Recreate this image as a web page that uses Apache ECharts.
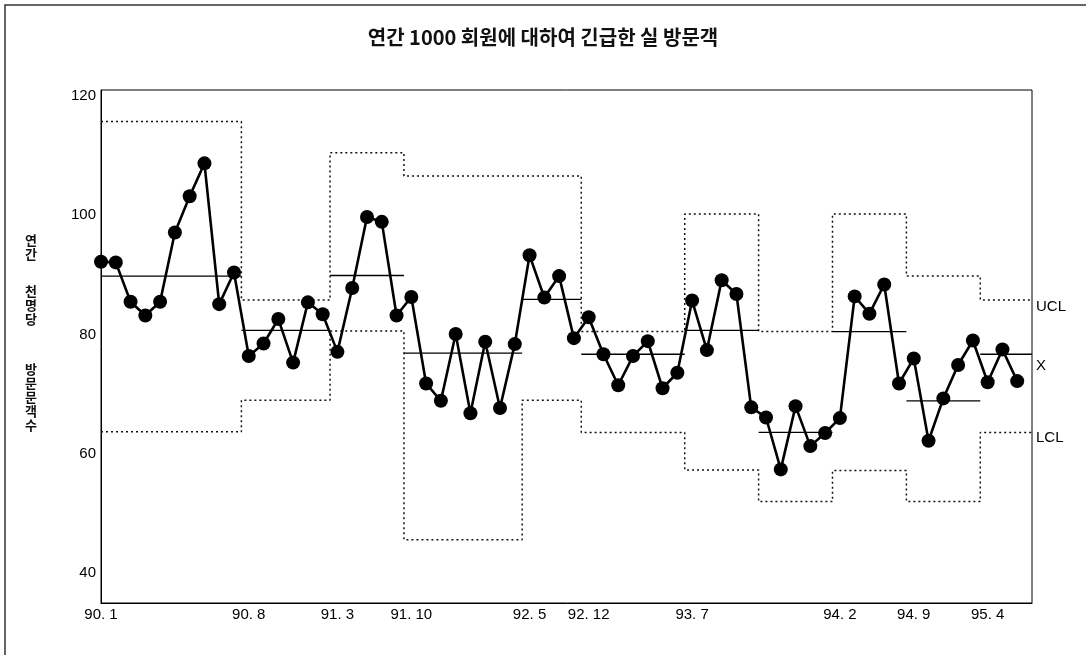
<!DOCTYPE html>
<html>
<head>
<meta charset="utf-8">
<script src="https://cdn.jsdelivr.net/npm/echarts@6/dist/echarts.min.js"></script>
<style>
  html, body { margin: 0; padding: 0; background: #fff; }
  #chart { width: 1086px; height: 655px; }
</style>
</head>
<body>
<div id="chart"></div>
<script>
// Emergency-room visits per 1000 members per year, one value per observation
const visits = [
  92.2, 92.1, 85.5, 83.2, 85.5, 97.1, 103.2, 108.7, 85.1, 90.4,
  76.4, 78.5, 82.6, 75.3, 85.4, 83.4,
  77.1, 87.8, 99.7, 98.9, 83.2,
  86.3, 71.8, 68.9, 80.1, 66.8, 78.8, 67.7, 78.4,
  93.3, 86.2, 89.8, 79.4,
  82.9, 76.7, 71.5, 76.4, 78.9, 71.0, 73.6,
  85.7, 77.4, 89.1, 86.8, 67.8,
  66.1, 57.4, 68.0, 61.3, 63.5,
  66.0, 86.4, 83.5, 88.4, 71.8,
  76.0, 62.2, 69.3, 74.9, 79.0,
  72.0, 77.5, 72.2
];

// Control-limit periods: first observation index of each period and its limits
const periodStart = [0, 10, 16, 21, 29, 33, 40, 45, 50, 55, 60];
const periodUCL   = [115.7, 85.8, 110.5, 106.6, 106.6, 80.5, 100.2, 80.5, 100.2, 89.8, 85.8];
const periodCL    = [89.8, 80.7, 89.9, 76.9, 85.9, 76.7, 80.7, 63.6, 80.5, 68.9, 76.7];
const periodLCL   = [63.7, 69.0, 80.6, 45.6, 69.0, 63.6, 57.3, 52.0, 57.2, 52.0, 63.6];

// Date labels on the time axis and the observation they sit under
const tickLabels = ['90. 1', '90. 8', '91. 3', '91. 10', '92. 5', '92. 12', '93. 7', '94. 2', '94. 9', '95. 4'];
const tickAt     = [0, 10, 16, 21, 29, 33, 40, 50, 55, 60];

const yTickLabels = [40, 60, 80, 100, 120];

const X_MIN = 0, X_MAX = 63;
const fontKR = '"Noto Sans CJK KR", "Noto Sans", sans-serif';
const fontLatin = '"Liberation Sans", Arial, sans-serif';

const tickMap = {};
tickAt.forEach((idx, k) => { tickMap[idx] = tickLabels[k]; });

// Horizontal extent of each period (half-way between neighbouring observations)
const periodBounds = periodStart.map((s, k) => {
  const next = k + 1 < periodStart.length ? periodStart[k + 1] : null;
  const a = k === 0 ? X_MIN : s - 0.5;
  const b = next === null ? X_MAX : next - 0.5;
  return [a, b];
});

function stepLine(values) {
  const pts = [];
  periodBounds.forEach(([a, b], k) => { pts.push([a, values[k]], [b, values[k]]); });
  return pts;
}

const dotted = { color: '#111', width: 1.5, type: [2, 3] };
const endLabelBase = { show: true, color: '#000', fontSize: 15, fontFamily: fontLatin, distance: 4 };

const series = [];

series.push({
  name: 'UCL', type: 'line', data: stepLine(periodUCL), symbol: 'none',
  lineStyle: dotted, silent: true, z: 2,
  endLabel: Object.assign({}, endLabelBase, { formatter: 'UCL', offset: [0, 7] })
});
series.push({
  name: 'LCL', type: 'line', data: stepLine(periodLCL), symbol: 'none',
  lineStyle: dotted, silent: true, z: 2,
  endLabel: Object.assign({}, endLabelBase, { formatter: 'LCL', offset: [0, 5] })
});

periodBounds.forEach(([a, b], k) => {
  const s = {
    name: 'CL' + k, type: 'line', data: [[a, periodCL[k]], [b, periodCL[k]]], symbol: 'none',
    lineStyle: { color: '#000', width: 1.3 }, silent: true, z: 3
  };
  if (k === periodBounds.length - 1) {
    s.endLabel = Object.assign({}, endLabelBase, { formatter: 'X', offset: [0, 12] });
  }
  series.push(s);
});

series.push({
  name: 'visits', type: 'line', data: visits.map((v, i) => [i, v]),
  symbol: 'circle', symbolSize: 14, itemStyle: { color: '#000' },
  lineStyle: { color: '#000', width: 2.6 }, z: 5
});

const yName = [
  '{c|연}', '{c|간}', '{g1| }', '{c|천}', '{c|명}', '{c|당}', '{g2| }',
  '{c|방}', '{c|문}', '{c|문}', '{c|객}', '{c|수}', '{g3| }'
].join('\n');

const chart = echarts.init(document.getElementById('chart'), null, { renderer: 'canvas' });
chart.setOption({
  animation: false,
  backgroundColor: '#fff',
  title: {
    text: '연간 1000 회원에 대하여 긴급한 실 방문객',
    left: 'center', top: 22,
    textStyle: { fontFamily: fontKR, fontSize: 20, fontWeight: 'bold', color: '#111' }
  },
  grid: { left: 101, right: 54, top: 90, bottom: 52, show: true, borderColor: '#000', borderWidth: 1 },
  xAxis: {
    type: 'value', min: X_MIN, max: X_MAX, interval: 1,
    axisLine: { show: true, lineStyle: { color: '#000', width: 1 } },
    axisTick: { show: false }, splitLine: { show: false },
    axisLabel: {
      formatter: v => tickMap[v] || '', color: '#000', fontSize: 15,
      fontFamily: fontLatin, margin: 4, showMinLabel: true, showMaxLabel: true
    }
  },
  yAxis: {
    type: 'value', min: 35, max: 121, interval: 5,
    axisLine: { show: true, lineStyle: { color: '#000', width: 1 } },
    axisTick: { show: false }, splitLine: { show: false },
    axisLabel: {
      formatter: v => (yTickLabels.indexOf(v) >= 0 ? String(v) : ''),
      color: '#000', fontSize: 15, fontFamily: fontLatin, margin: 5
    },
    name: yName, nameLocation: 'middle', nameRotate: 0, nameGap: 70,
    nameTextStyle: {
      align: 'center', verticalAlign: 'middle',
      rich: {
        c: { fontFamily: fontKR, fontSize: 13, fontWeight: 'bold', color: '#111', lineHeight: 14, align: 'center' },
        g1: { fontSize: 10, lineHeight: 22.7 },
        g2: { fontSize: 10, lineHeight: 36 },
        g3: { fontSize: 10, lineHeight: 28.3 }
      }
    }
  },
  graphic: [{
    type: 'polyline', silent: true,
    shape: { points: [[5, 655], [5, 5], [1086, 5]] },
    style: { stroke: '#333', lineWidth: 1.5, fill: null }
  }],
  series: series
});
</script>
</body>
</html>
